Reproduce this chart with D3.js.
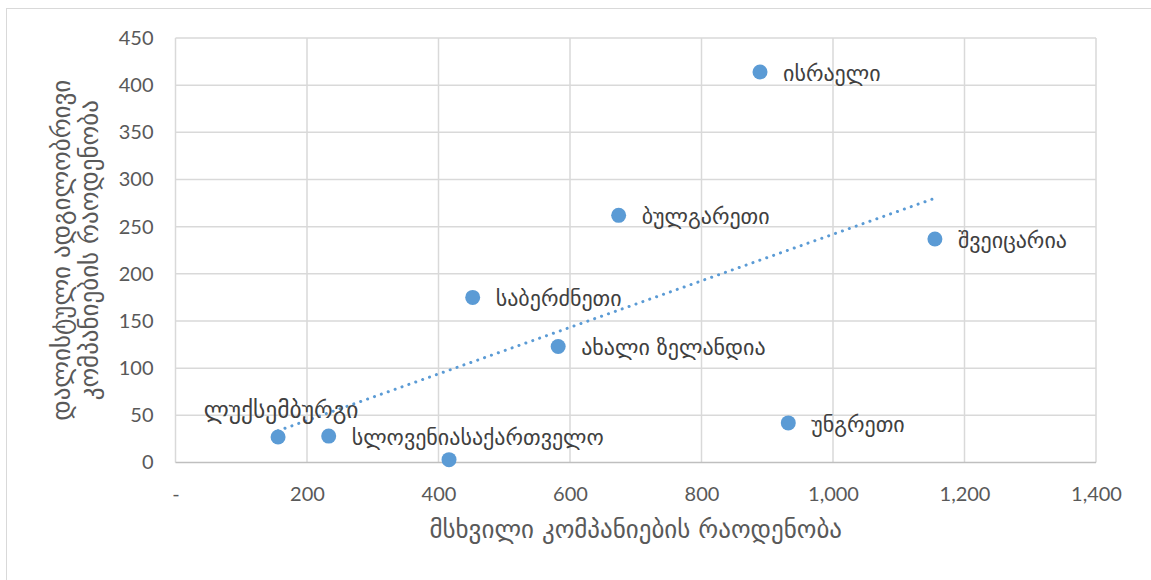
<!DOCTYPE html>
<html>
<head>
<meta charset="utf-8">
<script src="https://cdn.jsdelivr.net/npm/d3@7"></script>
<style>
  body { margin: 0; background: #fff; }
  .tick text { font-family: Lato, "Liberation Sans", sans-serif; font-size: 20px; fill: #595959; }
  .geo { font-family: "DejaVu Sans", sans-serif; fill: #404040; }
</style>
</head>
<body>
<svg id="chart" width="1151" height="580"></svg>
<script>
(function(d3) {
    "use strict";

    // countries (label), large companies (x), listed domestic companies (y)
    var countries = ["ლუქსემბურგი", "სლოვენია", "საქართველო", "საბერძნეთი", "ახალი ზელანდია",
                     "ბულგარეთი", "ისრაელი", "უნგრეთი", "შვეიცარია"];
    var largeCompanies = [156, 233, 416, 452, 582, 674, 889, 932, 1155];
    var listedCompanies = [27, 28, 3, 175, 123, 262, 414, 42, 237];
    var xTicks = [0, 200, 400, 600, 800, 1000, 1200, 1400];
    var yTicks = [0, 50, 100, 150, 200, 250, 300, 350, 400, 450];
    var xTitle = "მსხვილი კომპანიების რაოდენობა";
    var yTitle = ["დალისტული ადგილობრივი", "კომპანიების რაოდენობა"];

    var color = "#5b9bd5";
    var svg = d3.select("#chart");

    var margin = { left: 175.5, right: 1096, top: 38, bottom: 462.5 };
    var x = d3.scaleLinear().domain([0, 1400]).range([margin.left, margin.right]);
    var y = d3.scaleLinear().domain([0, 450]).range([margin.bottom, margin.top]);

    // chart frame
    svg.append("rect")
        .attr("x", 6.5).attr("y", 8.5)
        .attr("width", 1160).attr("height", 590)
        .attr("fill", "none").attr("stroke", "#d9d9d9");

    // gridlines
    svg.append("g").selectAll("line.h")
        .data(yTicks.slice(1)).enter().append("line")
        .attr("x1", margin.left).attr("x2", margin.right)
        .attr("y1", function(d) { return y(d); }).attr("y2", function(d) { return y(d); })
        .attr("stroke", "#d9d9d9").attr("stroke-width", 1.5);
    svg.append("g").selectAll("line.v")
        .data(xTicks).enter().append("line")
        .attr("y1", margin.top).attr("y2", margin.bottom)
        .attr("x1", function(d) { return x(d); }).attr("x2", function(d) { return x(d); })
        .attr("stroke", "#d9d9d9").attr("stroke-width", 1.5);
    svg.append("line")
        .attr("x1", margin.left).attr("x2", margin.right)
        .attr("y1", y(0)).attr("y2", y(0))
        .attr("stroke", "#bfbfbf").attr("stroke-width", 1.5);

    // axes (labels only)
    var fmt = d3.format(",");
    var xAxis = d3.axisBottom(x).tickValues(xTicks).tickSize(0).tickPadding(24)
        .tickFormat(function(d) { return d === 0 ? "-" : fmt(d); });
    svg.append("g").attr("transform", "translate(0," + y(0) + ")").call(xAxis)
        .call(function(g) { g.select(".domain").remove(); });

    var yAxis = d3.axisLeft(y).tickValues(yTicks).tickSize(0).tickPadding(22);
    svg.append("g").attr("transform", "translate(" + margin.left + ",0)").call(yAxis)
        .call(function(g) { g.select(".domain").remove(); });

    // linear trendline (least squares)
    var n = largeCompanies.length;
    var mx = d3.mean(largeCompanies), my = d3.mean(listedCompanies);
    var sxy = 0, sxx = 0;
    for (var i = 0; i < n; i++) {
        sxy += (largeCompanies[i] - mx) * (listedCompanies[i] - my);
        sxx += (largeCompanies[i] - mx) * (largeCompanies[i] - mx);
    }
    var slope = sxy / sxx, icpt = my - slope * mx;
    var ext = d3.extent(largeCompanies);
    svg.append("line")
        .attr("x1", x(ext[0])).attr("y1", y(icpt + slope * ext[0]))
        .attr("x2", x(ext[1])).attr("y2", y(icpt + slope * ext[1]))
        .attr("stroke", color).attr("stroke-width", 3)
        .attr("stroke-dasharray", "0.1 7.2").attr("stroke-linecap", "round");

    // points
    var pts = countries.map(function(c, i) {
        return { name: c, x: largeCompanies[i], y: listedCompanies[i] };
    });
    svg.append("g").selectAll("circle")
        .data(pts).enter().append("circle")
        .attr("cx", function(d) { return x(d.x); })
        .attr("cy", function(d) { return y(d.y); })
        .attr("r", 7.5).attr("fill", color);

    // data labels
    var labels = svg.append("g").attr("class", "geo").style("font-size", "22px");
    var ends = {};
    pts.forEach(function(d) {
        var t = labels.append("text").text(d.name).attr("dy", "0.35em");
        if (d.name === "ლუქსემბურგი") {
            t.attr("text-anchor", "middle").style("font-size", "23.5px")
                .attr("x", x(d.x) + 3).attr("y", y(d.y) - 27);
        } else if (d.name === "საქართველო") {
            // label was dragged next to Slovenia's label
            var s = ends["სლოვენია"];
            t.attr("x", s.x).attr("y", s.y);
        } else {
            t.attr("x", x(d.x) + 23).attr("y", y(d.y) + 1);
        }
        var len = t.node().getComputedTextLength();
        ends[d.name] = { x: +t.attr("x") + len, y: +t.attr("y") };
    });

    // axis titles
    svg.append("text").attr("class", "geo")
        .attr("x", (margin.left + margin.right) / 2).attr("y", 538)
        .attr("text-anchor", "middle").style("font-size", "25px").style("fill", "#595959")
        .text(xTitle);

    var yt = svg.append("text").attr("class", "geo")
        .attr("transform", "translate(75," + (margin.top + margin.bottom) / 2 + ") rotate(-90)")
        .attr("text-anchor", "middle").style("font-size", "25px").style("fill", "#595959");
    yTitle.forEach(function(line, i) {
        yt.append("tspan").attr("x", 0).attr("dy", i === 0 ? "-0.2em" : "1.1em").text(line);
    });

})(d3);
</script>
</body>
</html>
